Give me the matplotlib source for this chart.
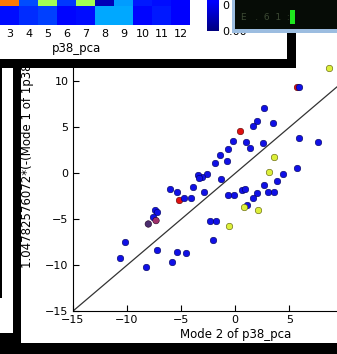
import numpy as np
import matplotlib
matplotlib.use('Agg')
import matplotlib.pyplot as plt
from matplotlib.patches import Rectangle

# scatter data (mode 2 vs scaled mode 1)
blue_x = [5.92, 2.66, 3.52, 2.05, 1.62, -0.17, 0.97, 1.37, 2.6, 5.86, 7.62, -0.66, -1.4, -1.86,
          -0.72, 5.74, 4.45, 3.83, 2.69, 2.05, 3.06, 3.62, 1.68, 1.12, 0.6, 0.9, -0.11, -0.69,
          -1.31, -2.63, -3.03, -3.43, -3.37, -3.86, -2.85, -4.08, -4.72, -5.37, -5.98, -7.4,
          -7.25, -7.62, -2.32, -1.77, -2.08, -10.2, -10.63, -7.18, -5.37, -4.57, -5.8, -8.26]
blue_y = [9.35, 7.07, 5.43, 5.72, 5.18, 3.55, 3.44, 2.72, 3.26, 3.84, 3.44, 2.64, 2.03, 1.16,
          1.30, 0.54, -0.11, -0.83, -1.23, -2.17, -1.99, -1.99, -2.68, -3.41, -1.81, -1.70, -2.36, -2.36,
          -0.62, -0.07, -0.43, -0.14, -0.51, -1.52, -2.07, -2.68, -2.72, -2.07, -1.70, -3.99,
          -4.24, -4.71, -5.14, -5.22, -7.21, -7.5, -9.24, -8.30, -8.51, -8.70, -9.67, -10.22]
red_x = [5.68, 0.45, -5.15]
red_y = [9.42, 4.57, -2.90]
yellow_x = [3.58, 3.12, 0.82, 2.08, -0.57, 8.69]
yellow_y = [1.74, 0.11, -3.62, -3.95, -5.72, 11.49]
mixed_x = [-7.31, -8.02]
mixed_y = [-5.14, -5.51]
mixed_c = ['#a0306a', '#4b2d6e']

# heatmap behind-window (two rows, columns 1..12; 1 and 2 are off-screen)
heat_cols = list(range(1, 13))
heat_labels = ['', '', '3', '4', '5', '6', '7', '8', '9', '10', '11', '12']
heat_vals = [[0.15, 0.20, 0.78, 0.20, 0.55, 0.18, 0.55, 0.05, 0.28, 0.15, 0.14, 0.12],
             [0.15, 0.90, 0.14, 0.17, 0.19, 0.13, 0.14, 0.29, 0.29, 0.13, 0.15, 0.11]]

W, H = 337, 354
fig = plt.figure(figsize=(W / 100, H / 100), dpi=100, facecolor='white')

def frect(x, y, w, h):
    return [x / W, 1 - (y + h) / H, w / W, h / H]

def box(x, y, w, h, color, z):
    fig.add_artist(Rectangle((x / W, 1 - (y + h) / H), w / W, h / H, transform=fig.transFigure,
                             facecolor=color, edgecolor='none', zorder=z))

# main scatter window
ax = fig.add_axes(frect(72.7, 35.3, 325, 276))
ax.plot([-15, 15], [-15, 15], color='#333333', lw=0.9, zorder=1)
ms = 22
ax.scatter(red_x, red_y, s=ms, c='#e01010', edgecolors='#550000', linewidths=0.4, zorder=2)
ax.scatter(blue_x, blue_y, s=ms, c='#1010e6', edgecolors='#000055', linewidths=0.4, zorder=3)
ax.scatter(mixed_x, mixed_y, s=ms, c=mixed_c, edgecolors='#220022', linewidths=0.4, zorder=3)
ax.scatter(yellow_x, yellow_y, s=ms, c='#dcef3a', edgecolors='#555500', linewidths=0.4, zorder=3)
ax.set_xlim(-15, 15); ax.set_ylim(-15, 15)
ax.set_xticks(range(-15, 11, 5)); ax.set_yticks(range(-15, 11, 5))
ax.tick_params(direction='in', length=4, labelsize=8, pad=3, top=False, right=True)
ax.spines['top'].set_visible(False)
ax.set_xlabel('Mode 2 of p38_pca', fontsize=8.5, labelpad=2)
fig.text(28 / W, 1 - 268 / H, '1.04782576072*(-(Mode 1 of 1p38', rotation=90,
         ha='center', va='bottom', fontsize=8.5, zorder=3)

# heatmap window on top
box(0, 0, 287, 59, 'white', 5)
hm = fig.add_axes(frect(-37.5, -13, 228, 38), zorder=6)
hm.imshow(np.array(heat_vals), cmap='jet', vmin=0, vmax=1, aspect='auto', interpolation='nearest')
hm.set_xticks(range(len(heat_cols)))
hm.set_xticklabels(heat_labels)
hm.set_yticks([])
hm.tick_params(axis='x', length=0, labelsize=8, pad=3)
hm.set_xlabel('p38_pca', fontsize=8.5, labelpad=2)
for s in hm.spines.values():
    s.set_visible(False)

cb = fig.add_axes(frect(207, -230, 12, 261), zorder=6)
cb.imshow(np.linspace(0, 1, 256)[:, None], cmap='jet', origin='lower', aspect='auto',
          extent=(0, 1, 0, 1))
cb.yaxis.tick_right()
cb.set_yticks([0, 0.1]); cb.set_yticklabels(['0.00', '0'])
cb.set_xticks([])
cb.tick_params(axis='y', length=0, labelsize=8, pad=2)
for s in cb.spines.values():
    s.set_visible(False)

# window shadows / frames
box(0, 59, 296, 9, 'black', 5)
box(287, 32, 9, 36, 'black', 5)
box(0, 68, 1.5, 230, 'black', 5)
box(13, 68, 8, 286, 'black', 5)
box(0, 333, 21, 21, 'black', 5)
box(0, 343, 337, 11, 'black', 5)

# dark terminal-like window top right
box(232, 0, 105, 33, '#9cbde0', 7)
box(235, 0, 102, 29, '#060c06', 7)
box(290, 10, 5, 14, '#1ee81e', 8)
fig.text(241 / W, 1 - 17 / H, 'E   .  6  1  :', color='#3c4a34', fontsize=6.5,
         va='center', zorder=8)

plt.savefig('out.png', dpi=100)
plt.close()
